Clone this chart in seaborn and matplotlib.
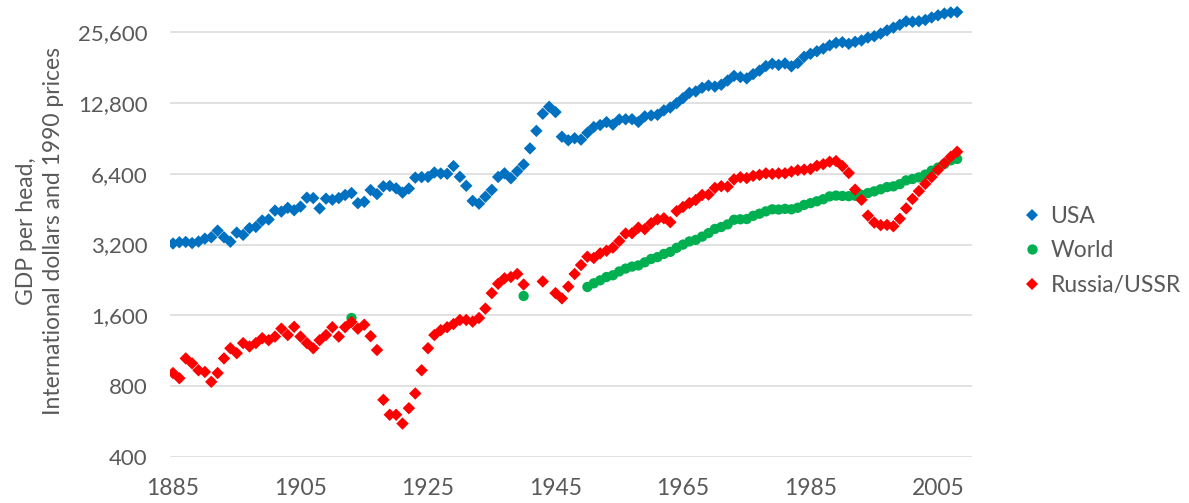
import numpy as np
import pandas as pd
import matplotlib
matplotlib.use("Agg")
import matplotlib.pyplot as plt
import seaborn as sns

# GDP per head, international dollars at 1990 prices
usa_years = list(range(1885, 2009))
usa_gdp = [
    3234, 3274, 3284, 3247, 3296, 3392, 3438, 3669, 3437, 3291, 3598, 3520, 3758, 3805, 4051,
    4091, 4464, 4421, 4585, 4478, 4642, 5066, 5047, 4560, 5017,
    4964, 5046, 5201, 5301, 4799, 4864, 5458, 5248, 5659, 5680,
    5552, 5323, 5540, 6164, 6195, 6205, 6481, 6418, 6399, 6899,
    6213, 5691, 4908, 4777, 5114, 5467, 6204, 6430, 6126, 6561,
    7010, 8206, 9741, 11518, 12333, 11709, 9197, 8886, 9065, 8944,
    9561, 10116, 10316, 10613, 10359, 10897, 10914, 10920, 10631, 11230,
    11328, 11402, 11905, 12242, 12773, 13419, 14134, 14330, 14863, 15179,
    15030, 15304, 15944, 16689, 16491, 16284, 16975, 17567, 18373, 18789,
    18577, 18856, 18325, 18920, 20123, 20717, 21236, 21788, 22499, 23059,
    23201, 22849, 23298, 23616, 24279, 24603, 25243, 26051, 26766, 27520,
    28467, 28352, 28492, 28858, 29564, 30183, 30728, 31050, 31178,
]

world_years = [1913, 1940] + list(range(1950, 2009))
world_gdp = [
    1560, 1935,
    2113, 2190, 2255, 2330, 2370, 2460, 2530, 2580, 2610, 2690,
    2780, 2830, 2920, 2980, 3100, 3200, 3300, 3350, 3460, 3580,
    3730, 3800, 3900, 4080, 4100, 4110, 4240, 4330, 4430, 4520,
    4510, 4540, 4520, 4590, 4720, 4800, 4890, 4990, 5130, 5170,
    5150, 5140, 5160, 5200, 5300, 5390, 5500, 5620, 5660, 5780,
    6000, 6080, 6180, 6350, 6600, 6800, 7050, 7300, 7400,
]

russia_years = list(range(1885, 1941)) + [1943] + list(range(1945, 2009))
russia_gdp = [
    910, 865, 1050, 1000, 935, 920, 835, 910, 1050, 1160, 1105, 1220, 1180, 1220, 1280,
    1255, 1300, 1405, 1320, 1430, 1300, 1220, 1160, 1255, 1320,
    1425, 1300, 1425, 1500, 1405, 1460, 1305, 1140, 700, 605,
    605, 555, 645, 745, 935, 1160, 1320, 1385, 1425, 1470,
    1530, 1530, 1505, 1560, 1710, 1990, 2180, 2300, 2330, 2400, 2165,
    2230,
    1990, 1890, 2120, 2400, 2620,
    2841, 2806, 2937, 3013, 3106, 3313, 3566, 3576, 3777, 3723,
    3945, 4098, 4140, 3985, 4439, 4626, 4807, 4951, 5202, 5220,
    5575, 5666, 5643, 6059, 6185, 6136, 6269, 6334, 6427, 6392,
    6427, 6432, 6535, 6630, 6669, 6708, 6921, 7030, 7200, 7250,
    6900, 6450, 5480, 4960, 4250, 3970, 3870, 3880, 3830, 4120,
    4560, 5000, 5400, 5800, 6200, 6650, 7100, 7560, 7940,
]

series_names = ["USA", "World", "Russia/USSR"]
colors = {"USA": "#0070C0", "World": "#00B050", "Russia/USSR": "#FF0000"}
y_ticks = [400, 800, 1600, 3200, 6400, 12800, 25600]
y_tick_labels = ["400", "800", "1,600", "3,200", "6,400", "12,800", "25,600"]
x_ticks = [1885, 1905, 1925, 1945, 1965, 1985, 2005]

df = pd.concat([
    pd.DataFrame({"year": usa_years, "gdp": usa_gdp, "series": "USA"}),
    pd.DataFrame({"year": world_years, "gdp": world_gdp, "series": "World"}),
    pd.DataFrame({"year": russia_years, "gdp": russia_gdp, "series": "Russia/USSR"}),
], ignore_index=True)

sns.set_theme(style="white")
plt.rcParams["font.family"] = ["Lato", "DejaVu Sans"]
text_color = "#595959"

fig = plt.figure(figsize=(11.89, 5.03), dpi=100)
ax = fig.add_axes([170 / 1189, 46 / 503, 802 / 1189, 455 / 503])

sns.scatterplot(
    data=df, x="year", y="gdp", hue="series", style="series", size="series",
    hue_order=series_names, style_order=series_names, size_order=series_names,
    palette=colors, markers={"USA": "D", "World": "o", "Russia/USSR": "D"},
    sizes={"USA": 40, "World": 55, "Russia/USSR": 40},
    linewidth=0, ax=ax, zorder=3,
)

ax.set_yscale("log", base=2)
ax.set_ylim(400, 34400)
ax.set_xlim(1884.53, 2010.33)
ax.set_yticks(y_ticks)
ax.set_yticklabels(y_tick_labels)
ax.minorticks_off()
ax.set_xticks(x_ticks)
ax.set_xticklabels([str(t) for t in x_ticks])
ax.yaxis.grid(True, color="#D9D9D9", linewidth=1.1)
ax.xaxis.grid(False)
for s in ax.spines.values():
    s.set_visible(False)
ax.tick_params(axis="y", length=0, pad=16, labelsize=16, labelcolor=text_color)
ax.tick_params(axis="x", length=0, pad=15, labelsize=16.5, labelcolor=text_color)
ax.set_xlabel("")
ax.set_ylabel("")

fig.text(40 / 1189, 0.541, "GDP per head,\nInternational dollars and 1990 prices",
         rotation=90, ha="center", va="center", multialignment="center",
         fontsize=16.5, color=text_color, linespacing=1.3)

sns.move_legend(ax, "center left", bbox_to_anchor=(1.035, 0.453), frameon=False,
                title=None, fontsize=16.5, labelspacing=0.6, handlelength=1.0,
                handletextpad=0.3, borderpad=0.4)
for t in ax.get_legend().get_texts():
    t.set_color(text_color)

fig.savefig("out.png", dpi=100)
plt.close(fig)
